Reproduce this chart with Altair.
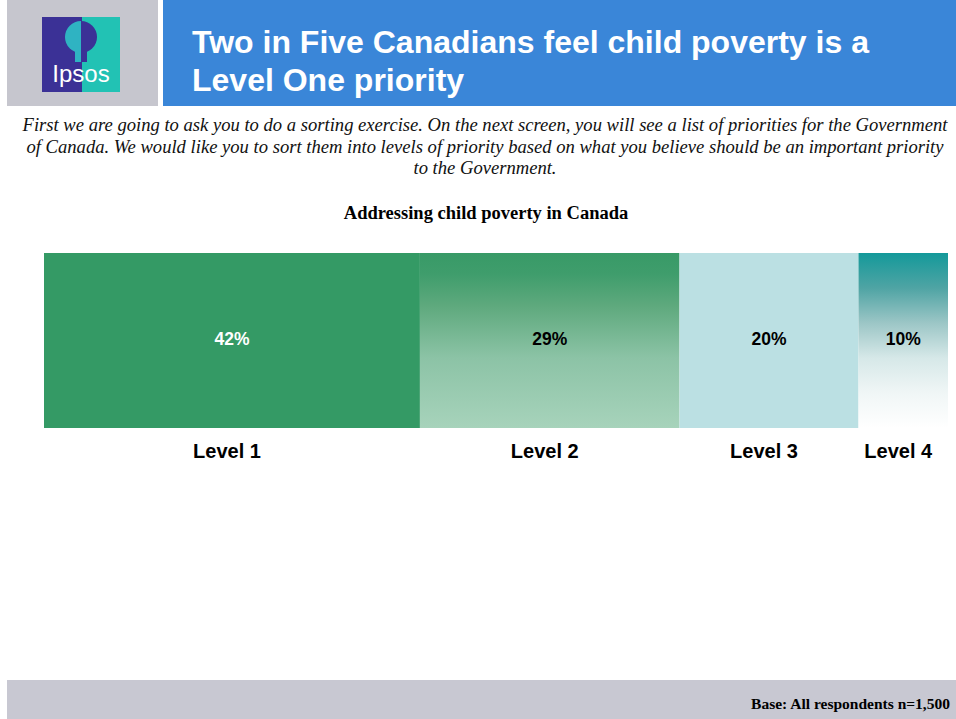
import altair as alt
import pandas as pd

# Survey result: share of respondents placing child poverty at each priority level
levels = ["Level 1", "Level 2", "Level 3", "Level 4"]
shares = [42, 29, 20, 10]
order = [1, 2, 3, 4]

title_lines = ["Two in Five Canadians feel child poverty is a", "Level One priority"]
question_lines = [
    "First we are going to ask you to do a sorting exercise. On the next screen, you will see a list of priorities for the Government",
    "of Canada. We would like you to sort them into levels of priority based on what you believe should be an important priority",
    "to the Government.",
]
chart_heading = "Addressing child poverty in Canada"
base_note = "Base:  All respondents n=1,500"

df = pd.DataFrame({"level": levels, "pct": shares, "order": order})
one = pd.DataFrame({"k": [0]})

SANS = "Liberation Sans"
SERIF = "Liberation Serif"

x_scale = alt.Scale(domain=[0, sum(shares)], range=[44, 948])


def grad(stops):
    return alt.Gradient(
        gradient="linear", x1=0, y1=0, x2=0, y2=1,
        stops=[alt.GradientStop(offset=o, color=c) for o, c in stops],
    )


fills = {
    "Level 1": "#349a65",
    "Level 2": grad([(0, "#389a67"), (0.12, "#3f9d6c"), (0.3, "#5ea97d"),
                     (0.6, "#8cc3a6"), (1, "#a7d3bb")]),
    "Level 3": "#bbe0e3",
    "Level 4": grad([(0, "#14999a"), (0.2, "#4fa4a4"), (0.4, "#9cc6c6"),
                     (0.6, "#d6e8e8"), (0.8, "#f0f6f6"), (1, "#ffffff")]),
}


def rect(x, x2, y, y2, color):
    return alt.Chart(one).mark_rect(color=color).encode(
        x=alt.value(x), x2=alt.value(x2), y=alt.value(y), y2=alt.value(y2)
    )


def label(txt, x, y, size, font, color="black", weight="normal", style="normal", align="left"):
    return alt.Chart(one).mark_text(
        text=txt, fontSize=size, font=font, color=color, fontWeight=weight,
        fontStyle=style, align=align, baseline="alphabetic",
    ).encode(x=alt.value(x), y=alt.value(y))


layers = []

# Header band
layers.append(rect(7, 158, 0, 106, "#c6c6ce"))
layers.append(rect(163, 956, 0, 106, "#3a86d8"))

# Logo tile
layers.append(rect(42, 82, 17, 92, "#3b3196"))
layers.append(rect(82, 120, 17, 92, "#22c2b4"))
layers.append(
    alt.Chart(one).mark_arc(theta=0, theta2=3.14159, outerRadius=16, color="#3b3196")
    .encode(x=alt.value(81), y=alt.value(37))
)
layers.append(
    alt.Chart(one).mark_arc(theta=3.14159, theta2=6.28318, outerRadius=16, color="#2fb3c2")
    .encode(x=alt.value(81), y=alt.value(37))
)
layers.append(rect(75, 81, 50, 62, "#2fb3c2"))
layers.append(rect(81, 87, 50, 62, "#3b3196"))
layers.append(label("Ipsos", 81, 82, 24, SANS, color="white", align="center"))

# Title
layers.append(label(title_lines[0], 192, 53, 32, SANS, color="white", weight="bold"))
layers.append(label(title_lines[1], 192, 91, 32, SANS, color="white", weight="bold"))

# Question wording
for i, line in enumerate(question_lines):
    layers.append(label(line, 485, 131 + 21.5 * i, 18.6, SERIF, color="#111111",
                        style="italic", align="center"))

layers.append(label(chart_heading, 486, 219, 18.5, SERIF, weight="bold", align="center"))

# Stacked bar segments
stacked = alt.Chart(df).transform_stack(
    stack="pct", as_=["x0", "x1"], groupby=[], sort=[alt.SortField("order")]
).transform_calculate(mid="(datum.x0 + datum.x1) / 2")

for lv in levels:
    layers.append(
        stacked.transform_filter(alt.datum.level == lv)
        .mark_bar(fill=fills[lv], stroke=None)
        .encode(
            x=alt.X("x0:Q", scale=x_scale, axis=None),
            x2="x1:Q",
            y=alt.value(253),
            y2=alt.value(428),
        )
    )

# Percentage labels inside segments
layers.append(
    stacked.transform_calculate(lab="datum.pct + '%'")
    .mark_text(fontSize=17.5, font=SANS, fontWeight="bold", baseline="middle")
    .encode(
        x=alt.X("mid:Q", scale=x_scale, axis=None),
        y=alt.value(340),
        text="lab:N",
        color=alt.when(alt.datum.level == "Level 1")
        .then(alt.value("white"))
        .otherwise(alt.value("black")),
    )
)

# Category labels under segments
layers.append(
    stacked.mark_text(fontSize=20, font=SANS, fontWeight="bold", baseline="alphabetic", dx=-5)
    .encode(
        x=alt.X("mid:Q", scale=x_scale, axis=None),
        y=alt.value(458),
        text="level:N",
        color=alt.value("black"),
    )
)

# Footer band
layers.append(rect(7, 956, 680, 719, "#c8c8d2"))
layers.append(label(base_note, 950, 709, 15.5, SERIF, weight="bold", align="right"))

chart = (
    alt.layer(*layers)
    .properties(width=956, height=719, padding=0, autosize="none", background="white")
    .configure_view(stroke=None)
)

chart.save("out.html", embed_options={"renderer": "svg", "actions": False})
